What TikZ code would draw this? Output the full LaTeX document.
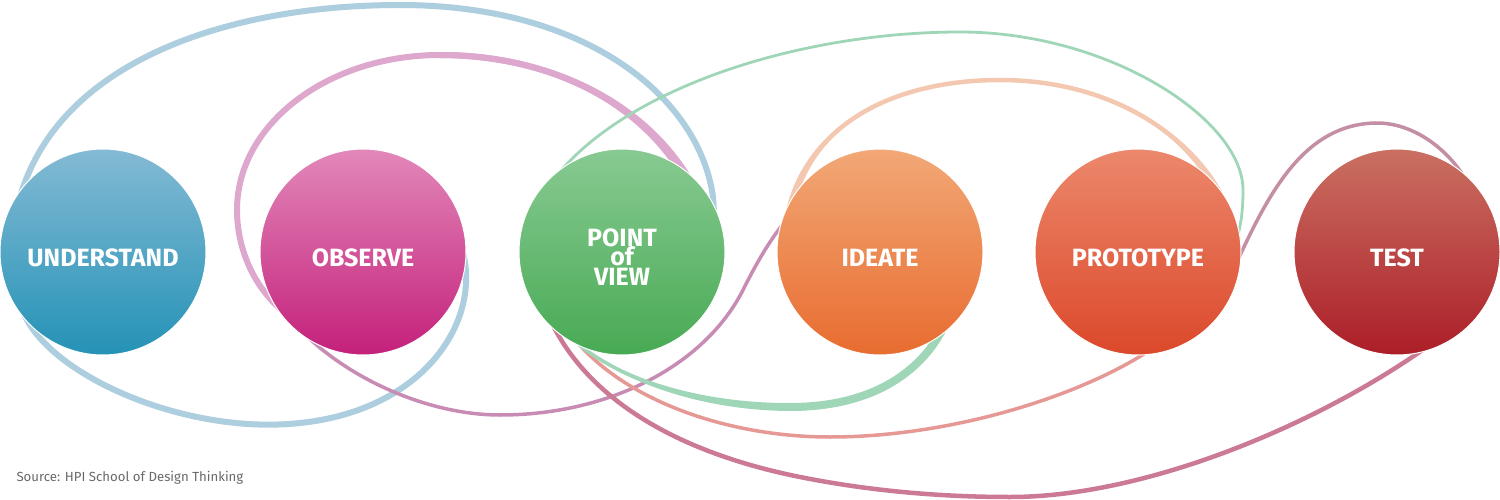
\documentclass[tikz,border=0pt]{standalone}
\usepackage{fontspec}
\setmainfont{Fira Sans}
\usetikzlibrary{calc}
\pgfdeclarelayer{paper}
\pgfdeclarelayer{bg}
\pgfsetlayers{paper,bg,main}
\definecolor{uTop}{RGB}{132,186,212}
\definecolor{uBot}{RGB}{36,146,182}
\definecolor{oTop}{RGB}{226,136,186}
\definecolor{oBot}{RGB}{196,32,122}
\definecolor{pTop}{RGB}{136,202,146}
\definecolor{pBot}{RGB}{72,170,84}
\definecolor{iTop}{RGB}{242,168,118}
\definecolor{iBot}{RGB}{232,108,48}
\definecolor{rTop}{RGB}{236,136,108}
\definecolor{rBot}{RGB}{220,72,42}
\definecolor{tTop}{RGB}{202,112,98}
\definecolor{tBot}{RGB}{172,30,40}
\definecolor{lnBlue}{RGB}{172,206,222}
\definecolor{lnPink}{RGB}{222,168,206}
\definecolor{lnPurp}{RGB}{200,140,180}
\definecolor{lnGreen}{RGB}{160,214,184}
\definecolor{lnPeach}{RGB}{244,200,176}
\definecolor{lnSalm}{RGB}{230,152,148}
\definecolor{lnMauve}{RGB}{204,122,148}
\definecolor{lnMauveT}{RGB}{196,142,164}
\definecolor{srcGray}{RGB}{105,105,105}
\begin{document}
\begin{tikzpicture}[x=1pt,y=-1pt,
  stage/.style={circle, minimum size=206pt, inner sep=0pt, draw=white, line width=1pt},
  lbl/.style={text=white, font=\fontsize{25}{20}\selectfont\bfseries, inner sep=0pt},
  crv/.style={line cap=butt, line join=round}]
\useasboundingbox (0,0) rectangle (1500,500);
\begin{pgfonlayer}{paper}
\fill[white] (0,0) rectangle (1500,500);
\end{pgfonlayer}

% stages
\node[stage, top color=uTop, bottom color=uBot] (und) at (103,252) {};
\node[stage, top color=oTop, bottom color=oBot] (obs) at (363,252) {};
\node[stage, top color=pTop, bottom color=pBot] (pov) at (622,252) {};
\node[stage, top color=iTop, bottom color=iBot] (ide) at (880,252) {};
\node[stage, top color=rTop, bottom color=rBot] (pro) at (1138,252) {};
\node[stage, top color=tTop, bottom color=tBot] (tes) at (1397,252) {};

\node[lbl, anchor=base] (undL) at ($(und.center)+(0,14)$) {UNDERSTAND};
\node[lbl, anchor=base] (obsL) at ($(obs.center)+(0,14)$) {OBSERVE};
\node[lbl, anchor=base] (povL1) at ($(pov.center)+(0,-6)$) {POINT};
\node[lbl, anchor=base] (povL2) at ($(pov.center)+(0,13)$) {of};
\node[lbl, anchor=base] (povL3) at ($(pov.center)+(0,33)$) {VIEW};
\node[lbl, anchor=base] (ideL) at ($(ide.center)+(0,14)$) {IDEATE};
\node[lbl, anchor=base] (proL) at ($(pro.center)+(0,14)$) {PROTOTYPE};
\node[lbl, anchor=base] (tesL) at ($(tes.center)+(0,14)$) {TEST};

\node[anchor=west, text=srcGray, font=\fontsize{13.2}{15}\selectfont] (src) at (13,478) {Source: HPI School of Design Thinking};

% curve end points (inside the circles)
\coordinate (bA) at ($(obs.center)!0.96!(obs.1)$);
\coordinate (bP) at ($(pov.center)!0.93!(pov.15)$);
\coordinate (pkA) at ($(pov.center)!0.875!(pov.26)$);
\coordinate (pkB) at ($(obs.center)!0.95!(obs.219)$);
\coordinate (pkC) at ($(ide.center)!0.9!(ide.150)$);
\coordinate (gA) at ($(pov.center)!0.94!(pov.148)$);
\coordinate (gB) at ($(pro.center)!0.9!(pro.0)$);
\coordinate (gbA) at ($(pov.center)!0.9!(pov.220)$);
\coordinate (gbM) at (790,407);
\coordinate (gbB) at ($(ide.center)!0.9!(ide.-42)$);
\coordinate (peA) at ($(ide.center)!0.945!(ide.161)$);
\coordinate (peB) at ($(pro.center)!0.95!(pro.29)$);
\coordinate (saA) at ($(pov.center)!0.9!(pov.232)$);
\coordinate (saB) at ($(pro.center)!0.88!(pro.-72)$);
\coordinate (mbA) at ($(pov.center)!0.92!(pov.216)$);
\coordinate (mbB) at ($(tes.center)!0.92!(tes.-62)$);
\coordinate (mtA) at ($(pro.center)!0.92!(pro.-16)$);
\coordinate (mtB) at ($(tes.center)!0.92!(tes.37)$);

\begin{pgfonlayer}{bg}
% blue loop: observe -> under understand -> over the top -> point of view
\draw[crv, lnBlue, line width=6pt] (bA) .. controls (482,320) and (425,410) .. (300,423)
  .. controls (190,435) and (60,380) .. (27,320)
  .. controls (10,290) and (12,224) .. (20,197)
  .. controls (60,60) and (230,5) .. (400,5)
  .. controls (590,5) and (700,100) .. (713,197) -- (bP);

% pink thick arc, tapered toward observe
\fill[lnPink] (707.7,210.2) .. controls (669.7,110.2) and (560,51.5) .. (440,52)
  -- (440,58) .. controls (560,58.5) and (660.3,113.8) .. (698.3,213.8) -- cycle;
\draw[crv, lnPink, line width=6pt] (pkA) .. controls (665,112) and (560,55) .. (440,55)
  .. controls (328,55) and (237,124) .. (237,210)
  .. controls (237,250) and (255,290) .. (pkB);
% pink/purple thin continuation to ideate
\draw[crv, lnPurp, line width=3.5pt] (pkB) .. controls (330,370) and (420,415) .. (500,415)
  .. controls (610,415) and (705,365) .. (743,290)
  .. controls (758,260) and (775,230) .. (pkC);

% green thin arc: point of view -> prototype
\draw[crv, lnGreen, line width=2.8pt] (gA) .. controls (600,95) and (790,32) .. (960,32)
  .. controls (1110,32) and (1243,120) .. (1243,190)
  .. controls (1243,215) and (1240,235) .. (gB);

% peach arc: ideate -> prototype (thicker at both ends)
\fill[lnPeach] (784.1,219.3) .. controls (802,119.5) and (900,79.5) .. (1000,80)
  .. controls (900,80.5) and (808,120.5) .. (791.9,220.7) -- cycle;
\fill[lnPeach] (1000,80) .. controls (1110,79.5) and (1197.8,133.9) .. (1227.7,203.5)
  -- (1220.3,206.5) .. controls (1192.2,136.1) and (1110,80.5) .. (1000,80) -- cycle;
\draw[crv, lnPeach, line width=4.5pt] (peA) .. controls (805,120) and (900,80) .. (1000,80)
  .. controls (1110,80) and (1195,135) .. (peB);

% mauve bottom: point of view -> test
\draw[crv, lnMauve, line width=4.5pt] (mbA) .. controls (590,420) and (720,461) .. (800,477)
  .. controls (860,489) and (930,497) .. (1010,497)
  .. controls (1150,497) and (1330,420) .. (mbB);

% salmon: point of view -> prototype
\draw[crv, lnSalm, line width=3.5pt] (saA) .. controls (610,395) and (720,437) .. (830,437)
  .. controls (960,437) and (1100,390) .. (saB);

% green band: point of view -> ideate (widening)
\draw[crv, lnGreen, line width=3.5pt] (gbA) .. controls (580,365) and (680,407) .. (gbM);
\fill[lnGreen] (gbA) .. controls (580.9,364.5) and (680,403.5) .. (790,403)
  -- (790,411) .. controls (680,410.5) and (579.1,365.5) .. (gbA) -- cycle;
\draw[crv, lnGreen, line width=8pt] (gbM) .. controls (880,407) and (930,365) .. (gbB);

% mauve top: prototype -> test
\draw[crv, lnMauveT, line width=3.5pt] (mtA) .. controls (1265,200) and (1300,125) .. (1375,123)
  .. controls (1420,122) and (1460,160) .. (mtB);
\end{pgfonlayer}
\end{tikzpicture}
\end{document}
